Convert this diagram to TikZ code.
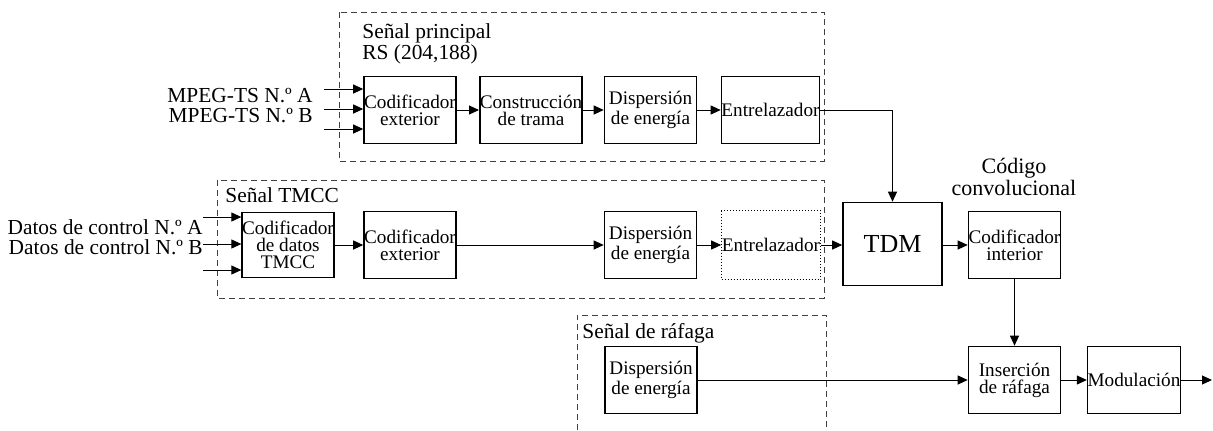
\documentclass[tikz,border=0pt]{standalone}
\usepackage{fontspec}
\setmainfont{Liberation Serif}
\usetikzlibrary{arrows.meta}

\tikzset{
  blk/.style={draw, line width=0.8pt, minimum width=46pt, minimum height=33.5pt,
    inner sep=0pt, align=center, font=\fontsize{9.6}{8.5}\selectfont},
  arr/.style={-{Triangle[length=5pt,width=4.5pt]}, line width=0.5pt},
  grp/.style={dashed, dash pattern=on 3pt off 2pt, line width=0.5pt, black!75},
  lbl/.style={inner sep=0pt, font=\fontsize{10.7}{9.5}\selectfont}
}

\begin{document}
\begin{tikzpicture}[x=0.5pt,y=-0.5pt]
    \useasboundingbox (0,0) rectangle (1213,430);

    % group frames
    \draw[grp] (339,12) rectangle (824,161);
    \draw[grp] (217,180) rectangle (824,298);
    \draw[grp] (577,430)--(577,315)--(826,315)--(826,430);
    \node[lbl, anchor=north west, align=left] (tprin) at (362,23) {Señal principal\\RS (204,188)};
    \node[lbl, anchor=west] (ttmcc) at (225,195) {Señal TMCC};
    \node[lbl, anchor=west] (traf) at (582,333) {Señal de ráfaga};

    % main signal
    \node[blk] (codext) at (410,110) {Codificador\\exterior};
    \node[blk] (constr) at (531,110) {Construcción\\de trama};
    \node[blk] (disp) at (650.5,110) {Dispersión\\de energía};
    \node[blk] (entr) at (770.5,110) {Entrelazador};
    \foreach \y in {89,109,129}
      \draw[arr] (324,\y) -- (codext.west |- 0,\y);
    \node[lbl, anchor=east] (mpega) at (313,96) {MPEG-TS N.º A};
    \node[lbl, anchor=east] (mpegb) at (313,116) {MPEG-TS N.º B};
    \draw[arr] (codext) -- (constr);
    \draw[arr] (constr) -- (disp);
    \draw[arr] (disp) -- (entr);

    % TMCC signal
    \node[blk, minimum width=45pt, minimum height=32.5pt] (tmcc) at (288,245) {Codificador\\de datos\\TMCC};
    \node[blk] (codextb) at (410,245) {Codificador\\exterior};
    \node[blk] (dispb) at (650.5,245) {Dispersión\\de energía};
    \node[blk, draw=none] (entrb) at (771,245) {Entrelazador};
    \draw[densely dotted, line width=0.5pt] (entrb.north west) rectangle (entrb.south east);
    \foreach \y in {217,244,270}
      \draw[arr] (203,\y) -- (tmcc.west |- 0,\y);
    \node[lbl, anchor=east] (data) at (203,227) {Datos de control N.º A};
    \node[lbl, anchor=east] (datb) at (203,247) {Datos de control N.º B};
    \draw[arr] (tmcc) -- (codextb);
    \draw[arr] (codextb) -- (dispb);
    \draw[arr] (dispb) -- (entrb);

    % multiplex and inner coding
    \node[blk, minimum width=49.5pt, minimum height=41.5pt, font=\fontsize{13}{13}\selectfont] (tdm) at (892.5,244) {TDM};
    \node[blk] (codint) at (1014.5,245) {Codificador\\interior};
    \node[lbl, align=center, font=\fontsize{11}{9.5}\selectfont] (conv) at (1014,177) {Código\\convolucional};
    \draw[arr] (entr.east) -| (tdm.north);
    \draw[arr] (entrb.east) -- (entrb.east -| tdm.west);
    \draw[arr] (tdm.east |- codint) -- (codint);

    % burst signal
    \node[blk] (dispc) at (651,380) {Dispersión\\de energía};
    \node[blk] (ins) at (1014.5,380) {Inserción\\de ráfaga};
    \node[blk] (mod) at (1134,380) {Modulación};
    \coordinate (out) at (1212,380);
    \draw[arr] (codint) -- (ins);
    \draw[arr] (dispc) -- (ins);
    \draw[arr] (ins) -- (mod);
    \draw[arr] (mod) -- (out);
\end{tikzpicture}
\end{document}
